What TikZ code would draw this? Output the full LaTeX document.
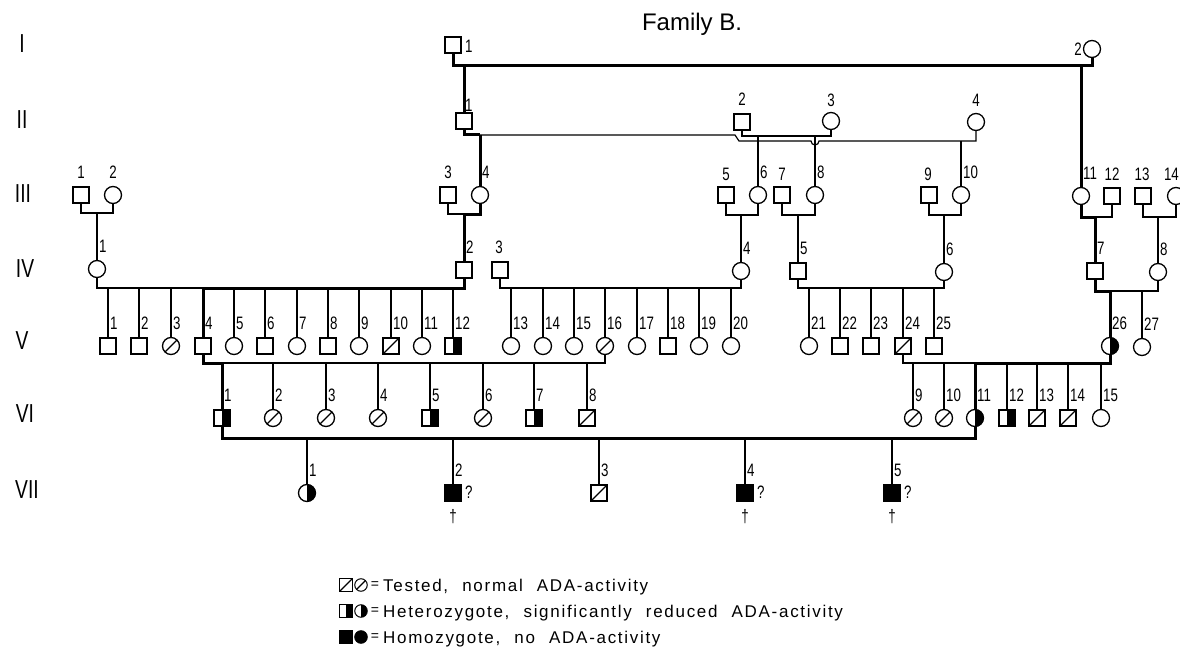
\documentclass[tikz,border=0pt]{standalone}
\usepackage{fontspec}
\setmainfont{Liberation Sans}
\newfontfamily\labfont{Liberation Sans}[FakeStretch=0.74]
\newfontfamily\legfont{Liberation Sans}[LetterSpace=10,WordSpace=2.2]
\newcommand\kid[7][ln]{%
  \node[#3] (#2) at (#4,#5) {};
  \draw[#1] (#2.north |- 0,#6) -- (#2.north);
  \node[lab,anchor=west] (#2n) at (#4+2,#5-23) {#7};}
\begin{document}
\begin{tikzpicture}[x=1pt,y=-1pt,
  ln/.style={line width=1.2pt},
  hv/.style={line width=3pt},
  sym/.style={draw,line width=1.3pt,inner sep=0pt,fill=white},
  M/.style={sym,rectangle,minimum size=16pt},
  F/.style={sym,circle,minimum size=17pt},
  nrm/.style={path picture={\draw[line width=1.1pt] (path picture bounding box.south west) -- (path picture bounding box.north east);}},
  het/.style={path picture={\fill[black] (path picture bounding box.south) rectangle (path picture bounding box.north east);}},
  hom/.style={fill=black},
  lab/.style={inner sep=0pt,font=\labfont\fontsize{18}{18}\selectfont},
  gen/.style={inner sep=0pt,font=\labfont\fontsize{26}{26}\selectfont},
  leg/.style={inner sep=0pt,font=\legfont\fontsize{17}{17}\selectfont},
  eq/.style={inner sep=0pt,font=\fontsize{14}{14}\selectfont},
  key/.style={minimum size=12.5pt,line width=1pt},
]
\fill[white] (0,0) rectangle (1180,663);
\useasboundingbox (0,0) rectangle (1180,663);

% title and generation numerals
\node[inner sep=0pt,font=\fontsize{24}{24}\selectfont] (title) at (692,24) {Family B.};
\node[gen] (gI) at (22,44) {I};
\node[gen] (gII) at (22,120) {II};
\node[gen] (gIII) at (23,194) {III};
\node[gen] (gIV) at (25,269) {IV};
\node[gen] (gV) at (22,341) {V};
\node[gen] (gVI) at (25,414) {VI};
\node[gen] (gVII) at (27,490) {VII};

% ---------- generation I
\node[M] (I1) at (453,45) {};
\node[lab,anchor=west] (I1n) at (465,46) {1};
\node[F] (I2) at (1092,49) {};
\node[lab,anchor=east] (I2n) at (1082,49) {2};
\coordinate (mI) at (453,66);
\draw[hv] (I1.south) |- (I2.south |- mI) -- (I2.south);

% ---------- generation II
\node[M] (II1) at (464,121) {};
\node[lab,anchor=west] (II1n) at (465,105) {1};
\draw[hv] (II1.north |- mI) -- (II1.north);
\node[M] (II2) at (742,122) {};
\node[lab] (II2n) at (742,99) {2};
\node[F] (II3) at (831,121) {};
\node[lab] (II3n) at (831,100) {3};
\node[F] (II4) at (976,122) {};
\node[lab] (II4n) at (976,100) {4};

% ---------- generation III
\node[M] (III1) at (81,195) {};
\node[lab] (III1n) at (81,172) {1};
\node[F] (III2) at (113,195) {};
\node[lab] (III2n) at (113,172) {2};
\node[M] (III3) at (448,195) {};
\node[lab] (III3n) at (448,172) {3};
\kid[hv]{III4}{F}{480}{195}{135}{4}
\node[M] (III5) at (726,195) {};
\node[lab] (III5n) at (726,174) {5};
\kid{III6}{F}{758}{195}{136}{6}
\node[M] (III7) at (782,195) {};
\node[lab] (III7n) at (782,174) {7};
\kid{III8}{F}{815}{195}{136}{8}
\node[M] (III9) at (929,195) {};
\node[lab] (III9n) at (928,174) {9};
\kid{III10}{F}{961}{195}{141}{10}
\kid[hv]{III11}{F}{1081}{196}{66}{11}
\node[M] (III12) at (1112,196) {};
\node[lab] (III12n) at (1112,174) {12};
\node[M] (III13) at (1143,196) {};
\node[lab] (III13n) at (1142,174) {13};
\node[F] (III14) at (1176,196) {};
\node[lab,anchor=east] (III14n) at (1179,174) {14};

% marriages of generation II
\coordinate (mII) at (480,135);
\draw[hv] (II1.south) |- (mII);
\draw[ln] (mII) -- (735,135) -- (739,141) -- (811,141)
  arc[start angle=180,end angle=0,radius=4] -- (II4.south |- 0,141) -- (II4.south);
\coordinate (mII2) at (742,136);
\draw[ln] (II2.south) -- (mII2) -| (II3.south);

% ---------- generation IV
\coordinate (mIII1) at (97,213);
\draw[ln] (III1.south) |- (mIII1) -| (III2.south);
\kid{IV1}{F}{97}{269}{213}{1}
\coordinate (mIII3) at (464,214);
\draw[ln] (III3.south) |- (mIII3);
\draw[hv] (mIII3) -| (III4.south);
\kid[hv]{IV2}{M}{464}{270}{214}{2}
\node[M] (IV3) at (500,270) {};
\node[lab] (IV3n) at (499,247) {3};
\coordinate (mIII5) at (741,215);
\draw[ln] (III5.south) |- (mIII5) -| (III6.south);
\kid{IV4}{F}{741}{271}{215}{4}
\coordinate (mIII7) at (798,215);
\draw[ln] (III7.south) |- (mIII7) -| (III8.south);
\kid{IV5}{M}{798}{271}{215}{5}
\coordinate (mIII9) at (944,215);
\draw[ln] (III9.south) |- (mIII9) -| (III10.south);
\kid{IV6}{F}{944}{272}{215}{6}
\coordinate (mIII11) at (1095,217);
\draw[hv] (III11.south) |- (mIII11);
\draw[ln] (mIII11) -| (III12.south);
\kid[hv]{IV7}{M}{1095}{271}{217}{7}
\coordinate (mIII13) at (1158,217);
\draw[ln] (III13.south) |- (mIII13) -| (III14.south);
\kid{IV8}{F}{1158}{272}{217}{8}

% ---------- generation V
\coordinate (mIV1) at (203,288);
\draw[ln] (IV1.south) |- (mIV1);
\draw[hv] (mIV1) -| (IV2.south);
\kid{V1}{M}{108}{346}{288}{1}
\kid{V2}{M}{139}{346}{288}{2}
\kid{V3}{F,nrm}{171}{346}{288}{3}
\kid[hv]{V4}{M}{203}{346}{288}{4}
\kid{V5}{F}{234}{346}{288}{5}
\kid{V6}{M}{265}{346}{288}{6}
\kid{V7}{F}{297}{346}{288}{7}
\kid{V8}{M}{328}{346}{288}{8}
\kid{V9}{F}{359}{346}{288}{9}
\kid{V10}{M,nrm}{391}{346}{288}{10}
\kid{V11}{F}{422}{346}{288}{11}
\kid{V12}{M,het}{453}{346}{288}{12}
\coordinate (mIV3) at (605,288);
\draw[ln] (IV3.south) |- (mIV3) -| (IV4.south);
\kid{V13}{F}{511}{346}{288}{13}
\kid{V14}{F}{543}{346}{288}{14}
\kid{V15}{F}{574}{346}{288}{15}
\kid{V16}{F,nrm}{605}{346}{288}{16}
\kid{V17}{F}{637}{346}{288}{17}
\kid{V18}{M}{668}{346}{288}{18}
\kid{V19}{F}{699}{346}{288}{19}
\kid{V20}{F}{731}{346}{288}{20}
\coordinate (mIV5) at (903,288);
\draw[ln] (IV5.south) |- (mIV5) -| (IV6.south);
\kid{V21}{F}{809}{346}{288}{21}
\kid{V22}{M}{840}{346}{288}{22}
\kid{V23}{M}{871}{346}{288}{23}
\kid{V24}{M,nrm}{903}{346}{288}{24}
\kid{V25}{M}{934}{346}{288}{25}
\coordinate (mIV7) at (1110,291);
\draw[hv] (IV7.south) |- (mIV7);
\draw[ln] (mIV7) -| (IV8.south);
\kid[hv]{V26}{F,het}{1110}{346}{291}{26}
\kid{V27}{F}{1142}{347}{291}{27}

% ---------- generation VI
\coordinate (mV4) at (222,363);
\draw[hv] (V4.south) |- (mV4);
\draw[ln] (mV4) -| (V16.south);
\kid[hv]{VI1}{M,het}{222}{418}{363}{1}
\kid{VI2}{F,nrm}{273}{418}{363}{2}
\kid{VI3}{F,nrm}{326}{418}{363}{3}
\kid{VI4}{F,nrm}{378}{418}{363}{4}
\kid{VI5}{M,het}{430}{418}{363}{5}
\kid{VI6}{F,nrm}{483}{418}{363}{6}
\kid{VI7}{M,het}{534}{418}{363}{7}
\kid{VI8}{M,nrm}{587}{418}{363}{8}
\coordinate (mV24) at (975,363);
\draw[ln] (V24.south) |- (mV24);
\draw[hv] (mV24) -| (V26.south);
\kid{VI9}{F,nrm}{913}{418}{363}{9}
\kid{VI10}{F,nrm}{944}{418}{363}{10}
\kid[hv]{VI11}{F,het}{975}{418}{363}{11}
\kid{VI12}{M,het}{1007}{418}{363}{12}
\kid{VI13}{M,nrm}{1037}{418}{363}{13}
\kid{VI14}{M,nrm}{1068}{418}{363}{14}
\kid{VI15}{F}{1101}{418}{363}{15}

% ---------- generation VII
\coordinate (mVI) at (307,438);
\draw[hv] (VI1.south) |- (mVI) -| (VI11.south);
\kid{VII1}{F,het}{307}{493}{438}{1}
\kid{VII2}{M,hom}{453}{493}{438}{2}
\kid{VII3}{M,nrm}{599}{493}{438}{3}
\kid{VII4}{M,hom}{745}{493}{438}{4}
\kid{VII5}{M,hom}{892}{493}{438}{5}
\node[lab,anchor=west] (VII2q) at (465,492) {?};
\node[lab,anchor=west] (VII4q) at (757,492) {?};
\node[lab,anchor=west] (VII5q) at (904,492) {?};
\node[lab] (VII2d) at (453,517) {†};
\node[lab] (VII4d) at (745,517) {†};
\node[lab] (VII5d) at (892,517) {†};

% ---------- legend
\node[M,nrm,key] (k1a) at (346,585) {};
\node[F,nrm,key] (k1b) at (361,585) {};
\node[eq] (k1e) at (375,585) {=};
\node[leg,anchor=base west] (k1t) at (383,591) {Tested, normal ADA-activity};
\node[M,het,key] (k2a) at (346,611) {};
\node[F,het,key] (k2b) at (361,611) {};
\node[eq] (k2e) at (375,611) {=};
\node[leg,anchor=base west] (k2t) at (383,617) {Heterozygote, significantly reduced ADA-activity};
\node[M,hom,key] (k3a) at (346,637) {};
\node[F,hom,key] (k3b) at (361,637) {};
\node[eq] (k3e) at (375,637) {=};
\node[leg,anchor=base west] (k3t) at (383,643) {Homozygote, no ADA-activity};
\end{tikzpicture}
\end{document}
